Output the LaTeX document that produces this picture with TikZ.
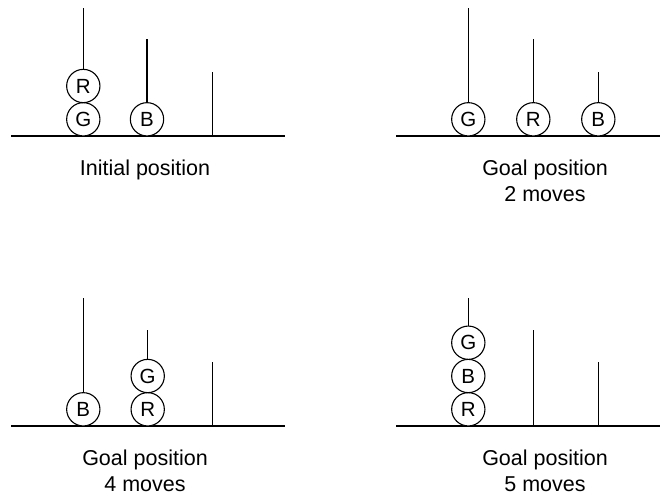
\documentclass[tikz,border=0pt]{standalone}
\usepackage{fontspec}
\setmainfont{Liberation Sans}
\begin{document}
\begin{tikzpicture}[x=1pt,y=-1pt,
  groundline/.style={line width=1.3pt},
  pegline/.style={line width=1.3pt},
  ball/.style={circle,draw,line width=1.1pt,fill=white,minimum size=33.3pt,inner sep=0pt,font=\fontsize{20.5}{22}\selectfont},
  lbl/.style={anchor=base,font=\fontsize{21.5}{24}\selectfont,inner sep=0pt}]
\useasboundingbox (0,0) rectangle (660,498);
% ---------- Panel 1 ----------
\coordinate (b1s) at (11,136); \coordinate (b1e) at (285,136);
\draw[groundline] (b1s) -- (b1e);
\coordinate (p11b) at (83.3,136); \coordinate (p11t) at (83.3,8.3);
\coordinate (p12b) at (147,136); \coordinate (p12t) at (147,39.3);
\coordinate (p13b) at (212.7,136); \coordinate (p13t) at (212.7,72.3);
\draw[pegline] (p11b) -- (p11t); \draw[pegline] (p12b) -- (p12t); \draw[pegline] (p13b) -- (p13t);
\node[ball] (g1) at (83.3,119.3) {G};
\node[ball] (r1) at (83.3,86) {R};
\node[ball] (bb1) at (147,119.3) {B};
\node[lbl] (t1) at (145,175.7) {Initial position};
% ---------- Panel 2 ----------
\coordinate (b2s) at (396,136); \coordinate (b2e) at (670,136);
\draw[groundline] (b2s) -- (b2e);
\coordinate (p21b) at (468.3,136); \coordinate (p21t) at (468.3,8.3);
\coordinate (p22b) at (533.3,136); \coordinate (p22t) at (533.3,39.3);
\coordinate (p23b) at (598.3,136); \coordinate (p23t) at (598.3,72.3);
\draw[pegline] (p21b) -- (p21t); \draw[pegline] (p22b) -- (p22t); \draw[pegline] (p23b) -- (p23t);
\node[ball] (g2) at (468.3,119.3) {G};
\node[ball] (r2) at (533.3,119.3) {R};
\node[ball] (bb2) at (598.3,119.3) {B};
\node[lbl] (t2a) at (545,175.7) {Goal position};
\node[lbl] (t2b) at (545,201.7) {2 moves};
% ---------- Panel 3 ----------
\coordinate (b3s) at (11,426); \coordinate (b3e) at (285,426);
\draw[groundline] (b3s) -- (b3e);
\coordinate (p31b) at (83.3,426); \coordinate (p31t) at (83.3,298.3);
\coordinate (p32b) at (147.7,426); \coordinate (p32t) at (147.7,330);
\coordinate (p33b) at (212.7,426); \coordinate (p33t) at (212.7,362.3);
\draw[pegline] (p31b) -- (p31t); \draw[pegline] (p32b) -- (p32t); \draw[pegline] (p33b) -- (p33t);
\node[ball] (bb3) at (83.3,409.3) {B};
\node[ball] (r3) at (147.7,409.3) {R};
\node[ball] (g3) at (147.7,376) {G};
\node[lbl] (t3a) at (145,465.7) {Goal position};
\node[lbl] (t3b) at (145,491.7) {4 moves};
% ---------- Panel 4 ----------
\coordinate (b4s) at (396,426); \coordinate (b4e) at (670,426);
\draw[groundline] (b4s) -- (b4e);
\coordinate (p41b) at (468.3,426); \coordinate (p41t) at (468.3,298.3);
\coordinate (p42b) at (533.3,426); \coordinate (p42t) at (533.3,330);
\coordinate (p43b) at (598.3,426); \coordinate (p43t) at (598.3,362.3);
\draw[pegline] (p41b) -- (p41t); \draw[pegline] (p42b) -- (p42t); \draw[pegline] (p43b) -- (p43t);
\node[ball] (r4) at (468.3,409.3) {R};
\node[ball] (bb4) at (468.3,376) {B};
\node[ball] (g4) at (468.3,342.7) {G};
\node[lbl] (t4a) at (545,465.7) {Goal position};
\node[lbl] (t4b) at (545,491.7) {5 moves};
\end{tikzpicture}
\end{document}
